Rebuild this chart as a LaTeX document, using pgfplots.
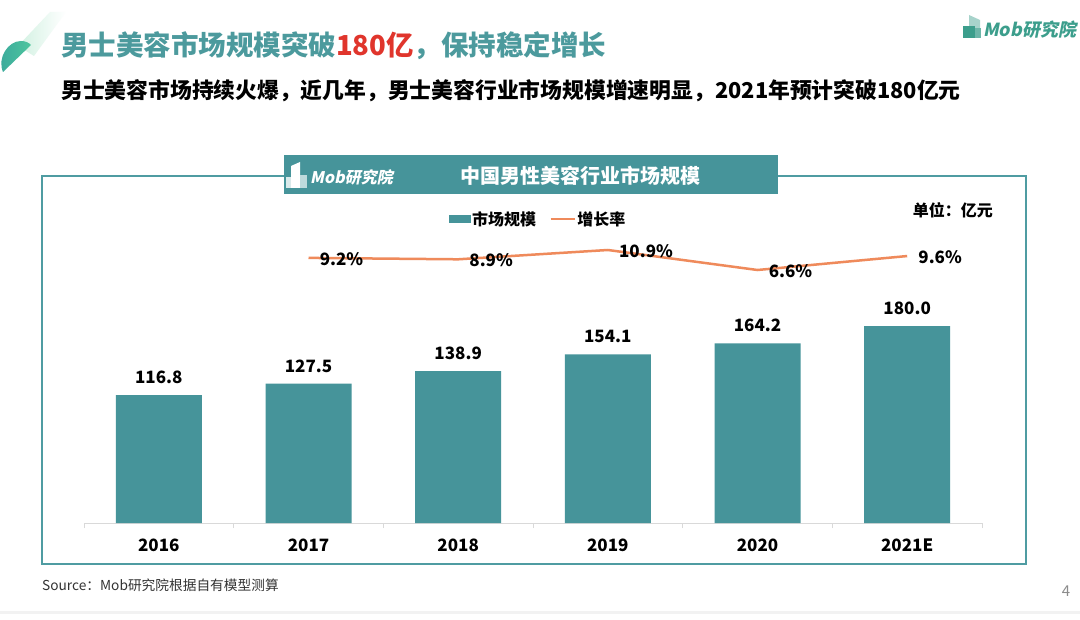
\documentclass[border=0pt]{standalone}
\usepackage{pgfplots}
\pgfplotsset{compat=1.18}
\usepackage{fontspec}
\setmainfont{Noto Sans CJK SC}
\newfontfamily\logofont{Noto Sans CJK SC}[FakeSlant=0.2]
\newcommand{\fs}[1]{\fontsize{#1}{#1}\selectfont}
\definecolor{teal1}{HTML}{46949A}
\definecolor{borderc}{HTML}{4F9CA2}
\definecolor{orangeL}{HTML}{EF8A5B}
\definecolor{titleteal}{HTML}{4C9A9D}
\definecolor{red1}{HTML}{E0352C}
\definecolor{logogreen}{HTML}{3C9E8C}
\definecolor{leafdark}{HTML}{3AA89C}
\definecolor{leafgreen}{HTML}{4EC59E}
\definecolor{leaflight}{HTML}{D2F1E2}
\begin{document}
\begin{tikzpicture}
\begin{scope}[x=1pt,y=-1pt]
\useasboundingbox (0,0) rectangle (1080,620);
\fill[white] (0,0) rectangle (1080,620);
\fill[black!5] (0,611) rectangle (1080,614);
% decorative leaf: light tail then dark blob
\shade[left color=leaflight, right color=white] (18,46) -- (50,12) -- (66,12) -- (34,56) -- cycle;
\shade[left color=leafdark, right color=leafgreen] (3,72) .. controls (-3,58) and (8,41) .. (21,41) .. controls (26,41) and (29,43) .. (31,45) -- cycle;
% titles
\node[anchor=west, inner sep=0pt, text=titleteal, font=\fs{27.5}\bfseries] at (61,46) {男士美容市场规模突破\textcolor{red1}{180亿}，保持稳定增长};
\node[anchor=west, inner sep=0pt, font=\fs{21.8}\bfseries] at (61,91) {男士美容市场持续火爆，近几年，男士美容行业市场规模增速明显，2021年预计突破180亿元};
% top-right logo
\fill[logogreen!45] (969,15) -- (980,20) -- (980,38) -- (969,38) -- cycle;
\fill[logogreen] (963,26) rectangle (975,38);
\fill[logogreen!75] (975,28) rectangle (981,38);
\node[anchor=west, inner sep=0pt, text=logogreen, font=\logofont\fs{18}\bfseries] at (983,30) {Mob研究院};
% chart frame
\draw[borderc, line width=1.6pt] (42,176) rectangle (1026,564);
\fill[teal1] (284,155) rectangle (778,194);
\fill[white!80!teal1] (286,177) rectangle (293,188);
\fill[white] (291,166) -- (300,162) -- (300,188) -- (291,188) -- cycle;
\fill[white!65!teal1] (300,175) rectangle (307,188);
\node[anchor=west, inner sep=0pt, text=white, font=\logofont\fs{16}\bfseries] at (310,177) {Mob研究院};
\node[text=white, inner sep=0pt, font=\fs{20}\bfseries] at (580,176) {中国男性美容行业市场规模};
\node[anchor=east, inner sep=0pt, font=\fs{16}\bfseries] at (993,210) {单位：亿元};
% source and page
\node[anchor=west, inner sep=0pt, font=\fs{13.7}, text=black!80] at (42,585) {Source：Mob研究院根据自有模型测算};
\node[inner sep=0pt, font=\fs{15}, text=black!45] at (1066,591) {4};
\end{scope}

\begin{axis}[
  at={(84pt,-523pt)}, anchor=south west, scale only axis,
  width=898pt, height=293pt,
  xmin=-0.5, xmax=5.5, ymin=0, ymax=267.8,
  axis y line=none, axis x line=bottom,
  x axis line style={-, draw=black!15, line width=1pt},
  xtick={0,1,2,3,4,5},
  xticklabels={2016,2017,2018,2019,2020,2021E},
  major tick length=0pt,
  extra x ticks={-0.5,0.5,1.5,2.5,3.5,4.5,5.5},
  extra x tick labels={},
  extra x tick style={major tick length=5pt, tick align=outside, tick style={draw=black!15, line width=1pt}},
  xticklabel style={font=\fs{17}\bfseries, anchor=base, yshift=-28pt, inner sep=0pt},
  legend style={at={(0.5056,1.0375)}, anchor=center, draw=none, fill=none,
    font=\fs{16}\bfseries, inner sep=0pt, nodes={inner sep=1.5pt},
    /tikz/every even column/.append style={column sep=12pt}},
  legend columns=2,
  clip=false,
]
\addplot[ybar, bar width=86pt, bar shift=0pt, fill=teal1, draw=none, forget plot,
  nodes near coords, point meta=explicit symbolic,
  nodes near coords style={font=\fs{17}\bfseries, anchor=south, inner sep=0pt, yshift=11pt, text=black}]
  coordinates {(0,116.8)[116.8] (1,127.5)[127.5] (2,138.9)[138.9] (3,154.1)[154.1] (4,164.2)[164.2] (5,180.0)[180.0]};
\addlegendimage{legend image code/.code={\fill[teal1] (0pt,-3.5pt) rectangle (21pt,3.5pt);}}
\addlegendentry{市场规模}
\addlegendimage{legend image code/.code={\draw[orangeL, line width=2.2pt] (0pt,0pt) -- (24pt,0pt);}}
\addlegendentry{增长率}
\end{axis}

\begin{axis}[
  at={(84pt,-523pt)}, anchor=south west, scale only axis,
  width=898pt, height=293pt,
  xmin=-0.5, xmax=5.5, ymin=-47.80, ymax=15.20,
  axis lines=none, clip=false,
]
\addplot[orangeL, line width=2.5pt, mark=none,
  nodes near coords, point meta=explicit symbolic,
  nodes near coords style={anchor=west, xshift=10pt, yshift=-1pt, font=\fs{17}\bfseries, inner sep=0pt, text=black}]
  coordinates {(1,9.2)[9.2\%] (2,8.9)[8.9\%] (3,10.9)[10.9\%] (4,6.6)[6.6\%] (5,9.6)[9.6\%]};
\end{axis}
\end{tikzpicture}
\end{document}
